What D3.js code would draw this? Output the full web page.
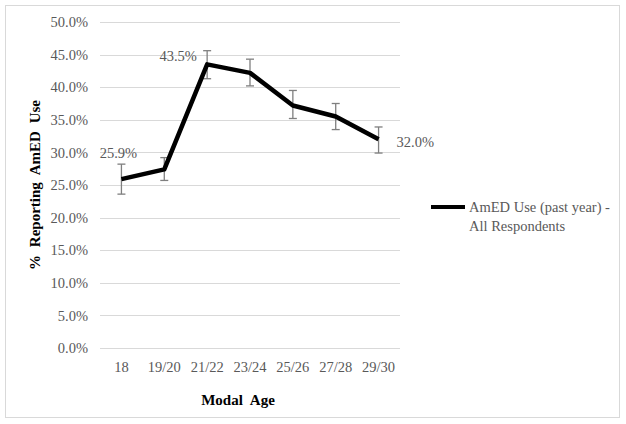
<!DOCTYPE html>
<html><head><meta charset="utf-8">
<script src="https://cdn.jsdelivr.net/npm/d3@7"></script>
<style>body{margin:0;background:#fff}svg{display:block}</style>
</head><body>
<script>
const categories = ["18","19/20","21/22","23/24","25/26","27/28","29/30"];
const values = [25.9, 27.4, 43.5, 42.2, 37.2, 35.5, 32.0];
const errLow = [23.6, 25.7, 41.3, 40.2, 35.2, 33.5, 29.9];
const errHigh = [28.2, 29.2, 45.6, 44.3, 39.5, 37.5, 33.9];
const yTicks = [0,5,10,15,20,25,30,35,40,45,50];
const labeledIdx = [0, 2, 6];
const seriesName = ["AmED Use (past year) -", "All Respondents"];

const W = 626, H = 424;
const svg = d3.select("body").append("svg").attr("width", W).attr("height", H);
const font = "'Liberation Serif','Times New Roman',serif";
svg.append("rect").attr("x",5.5).attr("y",5.5).attr("width",614).attr("height",412)
  .attr("fill","#fff").attr("stroke","#d9d9d9");

const x = d3.scaleBand().domain(categories).range([100,400]);
const y = d3.scaleLinear().domain([0,50]).range([348,22]);
const cx = c => x(c) + x.bandwidth()/2;

// gridlines
svg.append("g").selectAll("line").data(yTicks).join("line")
  .attr("x1",100).attr("x2",400).attr("y1",d=>Math.round(y(d))+0.5).attr("y2",d=>Math.round(y(d))+0.5)
  .attr("stroke","#d9d9d9").attr("stroke-width",1);

// y axis labels
const yAxis = d3.axisLeft(y).tickValues(yTicks).tickSize(0).tickPadding(0).tickFormat(d=>d.toFixed(1)+"%");
const gy = svg.append("g").attr("transform","translate(88,0)").call(yAxis);
gy.select(".domain").remove();
gy.selectAll("text").attr("font-family",font).attr("font-size","14.5px").attr("fill","#595959");

const xAxis = d3.axisBottom(x).tickSize(0).tickPadding(0);
const gx = svg.append("g").attr("transform","translate(0,362)").call(xAxis);
gx.select(".domain").remove();
gx.selectAll("text").attr("font-family",font).attr("font-size","14.5px").attr("fill","#595959").attr("dy","0.35em").attr("y",5);

// error bars
const eb = svg.append("g").attr("stroke","#7f7f7f").attr("stroke-width",1.3);
categories.forEach((c,i)=>{
  eb.append("line").attr("x1",cx(c)).attr("x2",cx(c)).attr("y1",y(errLow[i])).attr("y2",y(errHigh[i]));
  eb.append("line").attr("x1",cx(c)-4).attr("x2",cx(c)+4).attr("y1",y(errLow[i])).attr("y2",y(errLow[i]));
  eb.append("line").attr("x1",cx(c)-4).attr("x2",cx(c)+4).attr("y1",y(errHigh[i])).attr("y2",y(errHigh[i]));
});

// line
const line = d3.line().x((d,i)=>cx(categories[i])).y(d=>y(d));
svg.append("path").datum(values).attr("d",line).attr("fill","none").attr("stroke","#000")
  .attr("stroke-width",4.5).attr("stroke-linejoin","round");

// data labels
const lblPos = {0:{dx:-3,dy:-26,anchor:"middle"},2:{dx:-29,dy:-8.5,anchor:"middle"},6:{dx:18,dy:2.5,anchor:"start"}};
labeledIdx.forEach(i=>{
  const p = lblPos[i];
  svg.append("text").attr("x",cx(categories[i])+p.dx).attr("y",y(values[i])+p.dy)
    .attr("dy","0.35em").attr("text-anchor",p.anchor)
    .attr("font-family",font).attr("font-size","14.5px").attr("fill","#595959")
    .text(values[i].toFixed(1)+"%");
});

// axis titles
svg.append("text").attr("x",238).attr("y",400).attr("dy","0.35em").attr("text-anchor","middle")
  .attr("font-family",font).attr("font-weight","bold").attr("font-size","15px").attr("fill","#000")
  .attr("word-spacing","4px").text("Modal Age");
svg.append("text").attr("transform","translate(35,185) rotate(-90)").attr("dy","0.35em").attr("text-anchor","middle")
  .attr("font-family",font).attr("font-weight","bold").attr("font-size","15px").attr("fill","#000")
  .attr("word-spacing","4px").text("% Reporting AmED Use");

// legend
svg.append("line").attr("x1",431).attr("x2",465).attr("y1",207).attr("y2",207).attr("stroke","#000").attr("stroke-width",4);
seriesName.forEach((t,i)=>{
  svg.append("text").attr("x",469).attr("y",207+i*19).attr("dy","0.35em")
    .attr("font-family",font).attr("font-size","14.5px").attr("fill","#595959").text(t);
});
</script>
</body></html>
